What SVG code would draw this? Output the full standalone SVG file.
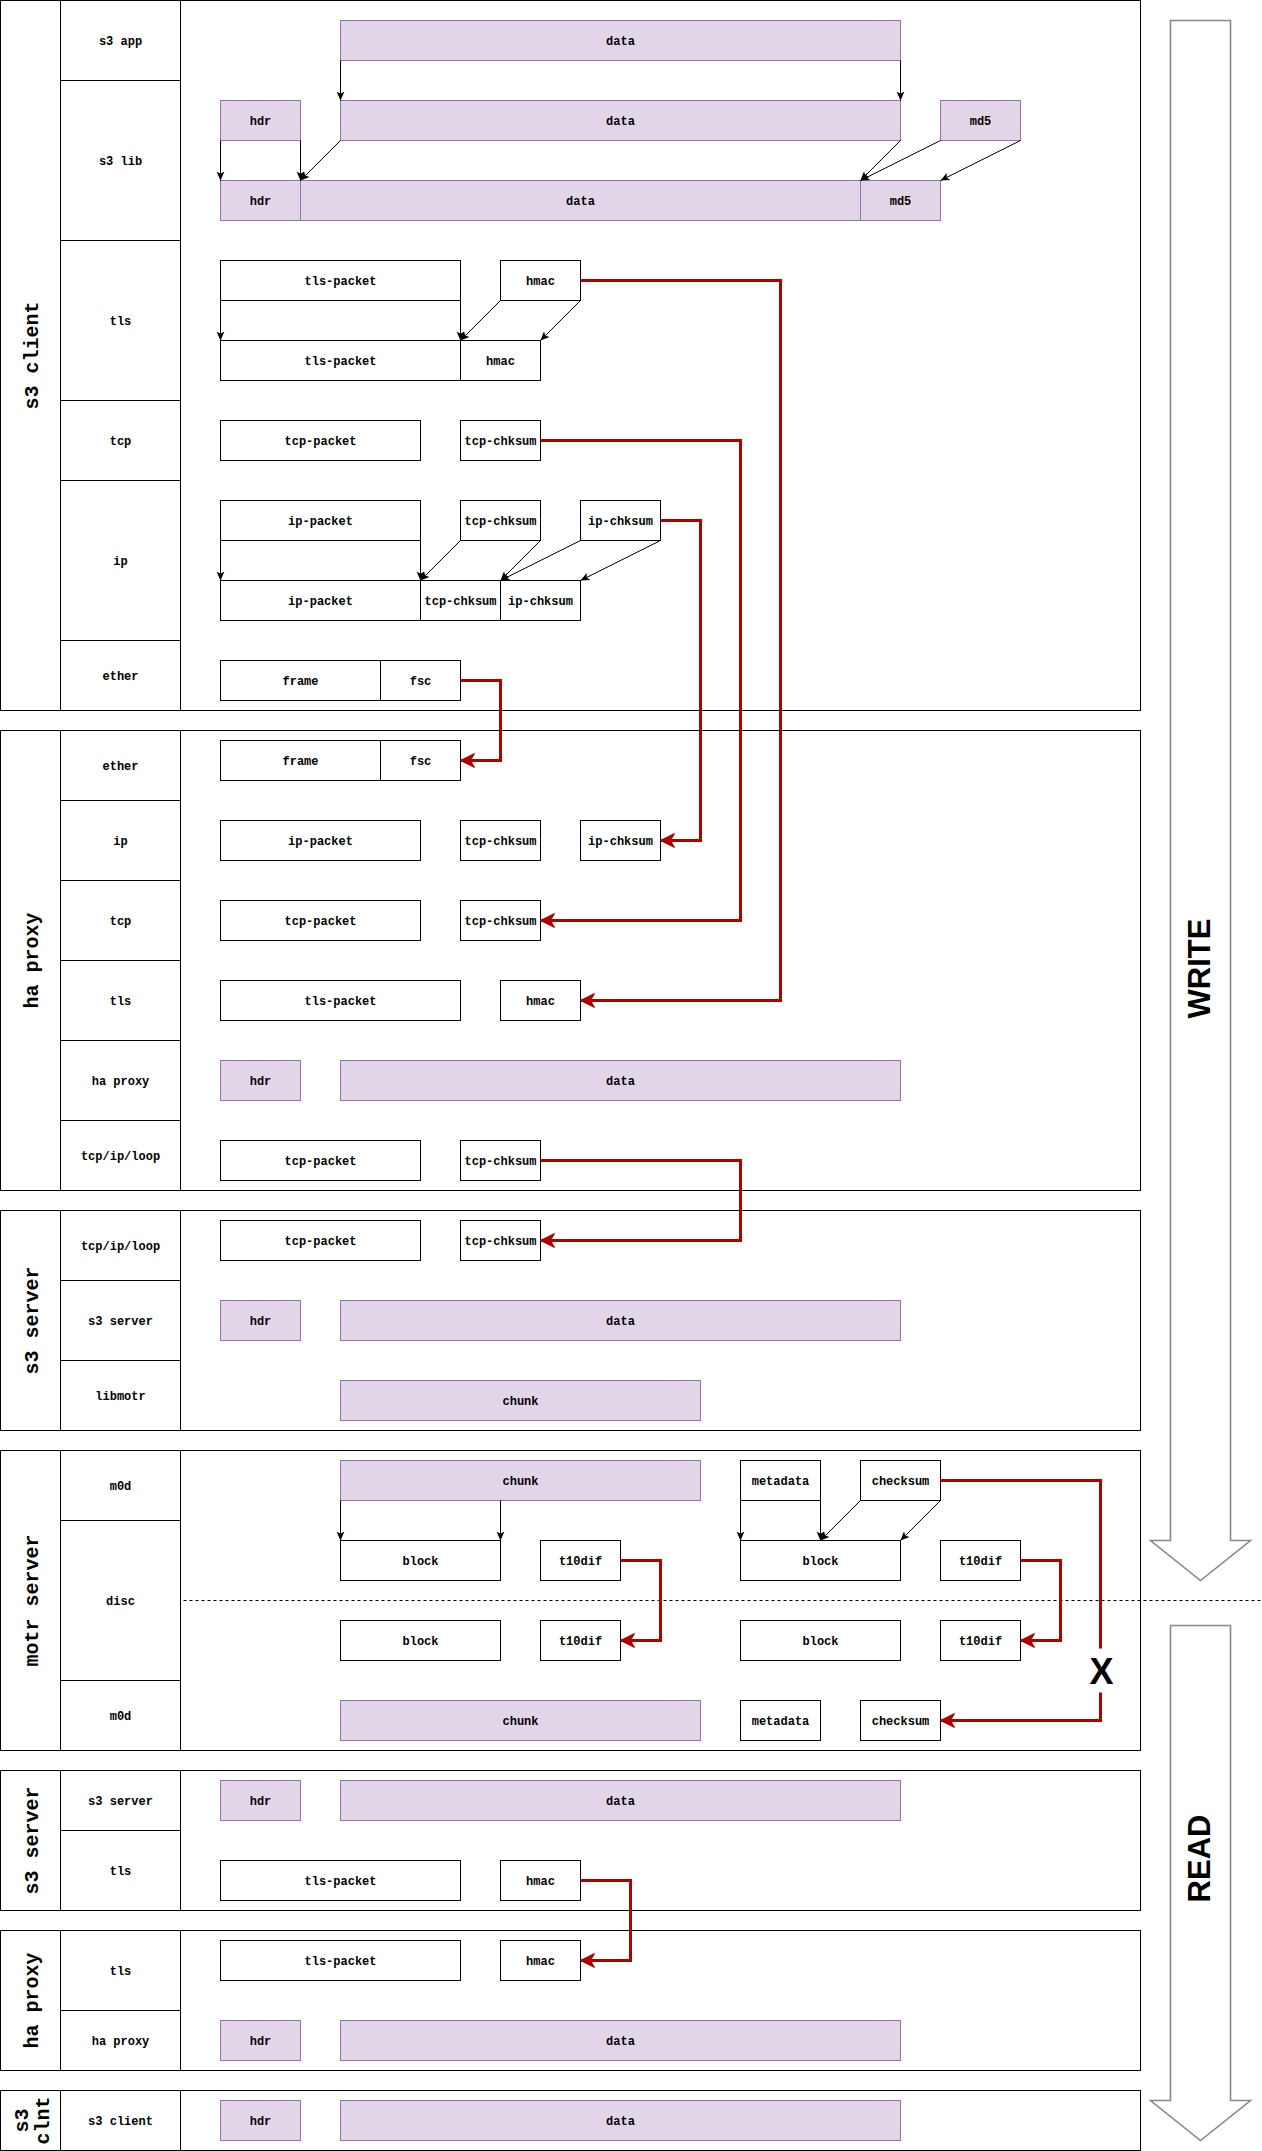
<svg xmlns="http://www.w3.org/2000/svg" width="1262" height="2151" viewBox="0 0 1262 2151">
<style>
.sec{fill:#fff;stroke:#000;stroke-width:1}
.box{fill:#fff;stroke:#000;stroke-width:1}
.pbox{fill:#e1d5e7;stroke:#9673a6;stroke-width:1}
.lbl{font-family:"Liberation Mono","Courier New",monospace;font-size:12px;font-weight:bold;text-anchor:middle;fill:#000}
.ttl{font-family:"Liberation Mono","Courier New",monospace;font-size:20px;font-weight:bold;text-anchor:middle;fill:#000}
.big{font-family:"Liberation Sans",Arial,sans-serif;font-weight:bold;font-size:31px;text-anchor:middle;fill:#000}
.red{fill:none;stroke:#B20000;stroke-width:3}
.redm{marker-end:url(#ra)}
.blk{fill:none;stroke:#000;stroke-width:1;marker-end:url(#ba)}
.flow{fill:#fff;stroke:#888;stroke-width:1.6}
.dash{fill:none;stroke:#000;stroke-width:1;stroke-dasharray:3 3}
</style>
<defs>
<marker id="ra" markerWidth="16" markerHeight="16" viewBox="0 0 16 16" refX="15" refY="8" orient="auto" markerUnits="userSpaceOnUse"><path d="M1,1 L15,8 L1,15 L5,8 Z" fill="#B20000" stroke="#B20000" stroke-width="1"/></marker>
<marker id="ba" markerWidth="10" markerHeight="9" viewBox="0 0 10 9" refX="9" refY="4.5" orient="auto" markerUnits="userSpaceOnUse"><path d="M0,0.5 L9,4.5 L0,8.5 L2.2,4.5 Z" fill="#000"/></marker>
</defs>
<rect x="0" y="0" width="1262" height="2151" fill="#fff"/>
<g transform="translate(0.5,0.5)">

<!-- section frames -->
<g id="sec-s3-client">
<rect class="sec" x="0" y="0" width="1140" height="710"/>
<rect class="sec" x="0" y="0" width="60" height="710"/>
<text class="ttl" transform="translate(0,355) rotate(-90)" x="0" y="37">s3 client</text>
<rect class="sec" x="60" y="0" width="120" height="80"/><text class="lbl" x="120" y="44">s3 app</text>
<rect class="sec" x="60" y="80" width="120" height="160"/><text class="lbl" x="120" y="164">s3 lib</text>
<rect class="sec" x="60" y="240" width="120" height="160"/><text class="lbl" x="120" y="324">tls</text>
<rect class="sec" x="60" y="400" width="120" height="80"/><text class="lbl" x="120" y="444">tcp</text>
<rect class="sec" x="60" y="480" width="120" height="160"/><text class="lbl" x="120" y="564">ip</text>
<rect class="sec" x="60" y="640" width="120" height="70"/><text class="lbl" x="120" y="679">ether</text>
</g>
<g id="sec-ha-proxy">
<rect class="sec" x="0" y="730" width="1140" height="460"/>
<rect class="sec" x="0" y="730" width="60" height="460"/>
<text class="ttl" transform="translate(0,960) rotate(-90)" x="0" y="37">ha proxy</text>
<rect class="sec" x="60" y="730" width="120" height="70"/><text class="lbl" x="120" y="769">ether</text>
<rect class="sec" x="60" y="800" width="120" height="80"/><text class="lbl" x="120" y="844">ip</text>
<rect class="sec" x="60" y="880" width="120" height="80"/><text class="lbl" x="120" y="924">tcp</text>
<rect class="sec" x="60" y="960" width="120" height="80"/><text class="lbl" x="120" y="1004">tls</text>
<rect class="sec" x="60" y="1040" width="120" height="80"/><text class="lbl" x="120" y="1084">ha proxy</text>
<rect class="sec" x="60" y="1120" width="120" height="70"/><text class="lbl" x="120" y="1159">tcp/ip/loop</text>
</g>
<g id="sec-s3-server-w">
<rect class="sec" x="0" y="1210" width="1140" height="220"/>
<rect class="sec" x="0" y="1210" width="60" height="220"/>
<text class="ttl" transform="translate(0,1320) rotate(-90)" x="0" y="37">s3 server</text>
<rect class="sec" x="60" y="1210" width="120" height="70"/><text class="lbl" x="120" y="1249">tcp/ip/loop</text>
<rect class="sec" x="60" y="1280" width="120" height="80"/><text class="lbl" x="120" y="1324">s3 server</text>
<rect class="sec" x="60" y="1360" width="120" height="70"/><text class="lbl" x="120" y="1399">libmotr</text>
</g>
<g id="sec-motr-server">
<rect class="sec" x="0" y="1450" width="1140" height="300"/>
<rect class="sec" x="0" y="1450" width="60" height="300"/>
<text class="ttl" transform="translate(0,1600) rotate(-90)" x="0" y="37">motr server</text>
<rect class="sec" x="60" y="1450" width="120" height="70"/><text class="lbl" x="120" y="1489">m0d</text>
<rect class="sec" x="60" y="1520" width="120" height="160"/><text class="lbl" x="120" y="1604">disc</text>
<rect class="sec" x="60" y="1680" width="120" height="70"/><text class="lbl" x="120" y="1719">m0d</text>
</g>
<g id="sec-s3-server-r">
<rect class="sec" x="0" y="1770" width="1140" height="140"/>
<rect class="sec" x="0" y="1770" width="60" height="140"/>
<text class="ttl" transform="translate(0,1840) rotate(-90)" x="0" y="37">s3 server</text>
<rect class="sec" x="60" y="1770" width="120" height="60"/><text class="lbl" x="120" y="1804">s3 server</text>
<rect class="sec" x="60" y="1830" width="120" height="80"/><text class="lbl" x="120" y="1874">tls</text>
</g>
<g id="sec-ha-proxy-r">
<rect class="sec" x="0" y="1930" width="1140" height="140"/>
<rect class="sec" x="0" y="1930" width="60" height="140"/>
<text class="ttl" transform="translate(0,2000) rotate(-90)" x="0" y="37">ha proxy</text>
<rect class="sec" x="60" y="1930" width="120" height="80"/><text class="lbl" x="120" y="1974">tls</text>
<rect class="sec" x="60" y="2010" width="120" height="60"/><text class="lbl" x="120" y="2044">ha proxy</text>
</g>
<g id="sec-s3-clnt">
<rect class="sec" x="0" y="2090" width="1140" height="60"/>
<rect class="sec" x="0" y="2090" width="60" height="60"/>
<text class="ttl" transform="translate(0,2120) rotate(-90)" x="0" y="27">s3<tspan x="0" dy="21">clnt</tspan></text>
<rect class="sec" x="60" y="2090" width="120" height="60"/><text class="lbl" x="120" y="2124">s3 client</text>
</g>

<!-- nodes: s3 client -->
<g id="c-app-data"><rect class="pbox" x="340" y="20" width="560" height="40"/><text class="lbl" x="620" y="44">data</text></g>
<g id="c-lib-hdr1"><rect class="pbox" x="220" y="100" width="80" height="40"/><text class="lbl" x="260" y="124">hdr</text></g>
<g id="c-lib-data1"><rect class="pbox" x="340" y="100" width="560" height="40"/><text class="lbl" x="620" y="124">data</text></g>
<g id="c-lib-md51"><rect class="pbox" x="940" y="100" width="80" height="40"/><text class="lbl" x="980" y="124">md5</text></g>
<g id="c-lib-hdr2"><rect class="pbox" x="220" y="180" width="80" height="40"/><text class="lbl" x="260" y="204">hdr</text></g>
<g id="c-lib-data2"><rect class="pbox" x="300" y="180" width="560" height="40"/><text class="lbl" x="580" y="204">data</text></g>
<g id="c-lib-md52"><rect class="pbox" x="860" y="180" width="80" height="40"/><text class="lbl" x="900" y="204">md5</text></g>
<g id="c-tls-pkt1"><rect class="box" x="220" y="260" width="240" height="40"/><text class="lbl" x="340" y="284">tls-packet</text></g>
<g id="c-tls-hmac1"><rect class="box" x="500" y="260" width="80" height="40"/><text class="lbl" x="540" y="284">hmac</text></g>
<g id="c-tls-pkt2"><rect class="box" x="220" y="340" width="240" height="40"/><text class="lbl" x="340" y="364">tls-packet</text></g>
<g id="c-tls-hmac2"><rect class="box" x="460" y="340" width="80" height="40"/><text class="lbl" x="500" y="364">hmac</text></g>
<g id="c-tcp-pkt"><rect class="box" x="220" y="420" width="200" height="40"/><text class="lbl" x="320" y="444">tcp-packet</text></g>
<g id="c-tcp-chk"><rect class="box" x="460" y="420" width="80" height="40"/><text class="lbl" x="500" y="444">tcp-chksum</text></g>
<g id="c-ip-pkt1"><rect class="box" x="220" y="500" width="200" height="40"/><text class="lbl" x="320" y="524">ip-packet</text></g>
<g id="c-ip-tcpchk1"><rect class="box" x="460" y="500" width="80" height="40"/><text class="lbl" x="500" y="524">tcp-chksum</text></g>
<g id="c-ip-ipchk1"><rect class="box" x="580" y="500" width="80" height="40"/><text class="lbl" x="620" y="524">ip-chksum</text></g>
<g id="c-ip-pkt2"><rect class="box" x="220" y="580" width="200" height="40"/><text class="lbl" x="320" y="604">ip-packet</text></g>
<g id="c-ip-tcpchk2"><rect class="box" x="420" y="580" width="80" height="40"/><text class="lbl" x="460" y="604">tcp-chksum</text></g>
<g id="c-ip-ipchk2"><rect class="box" x="500" y="580" width="80" height="40"/><text class="lbl" x="540" y="604">ip-chksum</text></g>
<g id="c-eth-frame"><rect class="box" x="220" y="660" width="160" height="40"/><text class="lbl" x="300" y="684">frame</text></g>
<g id="c-eth-fsc"><rect class="box" x="380" y="660" width="80" height="40"/><text class="lbl" x="420" y="684">fsc</text></g>

<!-- nodes: ha proxy -->
<g id="h-eth-frame"><rect class="box" x="220" y="740" width="160" height="40"/><text class="lbl" x="300" y="764">frame</text></g>
<g id="h-eth-fsc"><rect class="box" x="380" y="740" width="80" height="40"/><text class="lbl" x="420" y="764">fsc</text></g>
<g id="h-ip-pkt"><rect class="box" x="220" y="820" width="200" height="40"/><text class="lbl" x="320" y="844">ip-packet</text></g>
<g id="h-ip-tcpchk"><rect class="box" x="460" y="820" width="80" height="40"/><text class="lbl" x="500" y="844">tcp-chksum</text></g>
<g id="h-ip-ipchk"><rect class="box" x="580" y="820" width="80" height="40"/><text class="lbl" x="620" y="844">ip-chksum</text></g>
<g id="h-tcp-pkt"><rect class="box" x="220" y="900" width="200" height="40"/><text class="lbl" x="320" y="924">tcp-packet</text></g>
<g id="h-tcp-chk"><rect class="box" x="460" y="900" width="80" height="40"/><text class="lbl" x="500" y="924">tcp-chksum</text></g>
<g id="h-tls-pkt"><rect class="box" x="220" y="980" width="240" height="40"/><text class="lbl" x="340" y="1004">tls-packet</text></g>
<g id="h-tls-hmac"><rect class="box" x="500" y="980" width="80" height="40"/><text class="lbl" x="540" y="1004">hmac</text></g>
<g id="h-ha-hdr"><rect class="pbox" x="220" y="1060" width="80" height="40"/><text class="lbl" x="260" y="1084">hdr</text></g>
<g id="h-ha-data"><rect class="pbox" x="340" y="1060" width="560" height="40"/><text class="lbl" x="620" y="1084">data</text></g>
<g id="h-loop-pkt"><rect class="box" x="220" y="1140" width="200" height="40"/><text class="lbl" x="320" y="1164">tcp-packet</text></g>
<g id="h-loop-chk"><rect class="box" x="460" y="1140" width="80" height="40"/><text class="lbl" x="500" y="1164">tcp-chksum</text></g>

<!-- nodes: s3 server (write) -->
<g id="s-loop-pkt"><rect class="box" x="220" y="1220" width="200" height="40"/><text class="lbl" x="320" y="1244">tcp-packet</text></g>
<g id="s-loop-chk"><rect class="box" x="460" y="1220" width="80" height="40"/><text class="lbl" x="500" y="1244">tcp-chksum</text></g>
<g id="s-hdr"><rect class="pbox" x="220" y="1300" width="80" height="40"/><text class="lbl" x="260" y="1324">hdr</text></g>
<g id="s-data"><rect class="pbox" x="340" y="1300" width="560" height="40"/><text class="lbl" x="620" y="1324">data</text></g>
<g id="s-chunk"><rect class="pbox" x="340" y="1380" width="360" height="40"/><text class="lbl" x="520" y="1404">chunk</text></g>

<!-- nodes: motr server -->
<g id="m-chunk1"><rect class="pbox" x="340" y="1460" width="360" height="40"/><text class="lbl" x="520" y="1484">chunk</text></g>
<g id="m-meta1"><rect class="box" x="740" y="1460" width="80" height="40"/><text class="lbl" x="780" y="1484">metadata</text></g>
<g id="m-cks1"><rect class="box" x="860" y="1460" width="80" height="40"/><text class="lbl" x="900" y="1484">checksum</text></g>
<g id="m-blk1"><rect class="box" x="340" y="1540" width="160" height="40"/><text class="lbl" x="420" y="1564">block</text></g>
<g id="m-dif1"><rect class="box" x="540" y="1540" width="80" height="40"/><text class="lbl" x="580" y="1564">t10dif</text></g>
<g id="m-blk2"><rect class="box" x="740" y="1540" width="160" height="40"/><text class="lbl" x="820" y="1564">block</text></g>
<g id="m-dif2"><rect class="box" x="940" y="1540" width="80" height="40"/><text class="lbl" x="980" y="1564">t10dif</text></g>
<g id="m-blk3"><rect class="box" x="340" y="1620" width="160" height="40"/><text class="lbl" x="420" y="1644">block</text></g>
<g id="m-dif3"><rect class="box" x="540" y="1620" width="80" height="40"/><text class="lbl" x="580" y="1644">t10dif</text></g>
<g id="m-blk4"><rect class="box" x="740" y="1620" width="160" height="40"/><text class="lbl" x="820" y="1644">block</text></g>
<g id="m-dif4"><rect class="box" x="940" y="1620" width="80" height="40"/><text class="lbl" x="980" y="1644">t10dif</text></g>
<g id="m-chunk2"><rect class="pbox" x="340" y="1700" width="360" height="40"/><text class="lbl" x="520" y="1724">chunk</text></g>
<g id="m-meta2"><rect class="box" x="740" y="1700" width="80" height="40"/><text class="lbl" x="780" y="1724">metadata</text></g>
<g id="m-cks2"><rect class="box" x="860" y="1700" width="80" height="40"/><text class="lbl" x="900" y="1724">checksum</text></g>

<!-- nodes: s3 server (read) -->
<g id="r-s-hdr"><rect class="pbox" x="220" y="1780" width="80" height="40"/><text class="lbl" x="260" y="1804">hdr</text></g>
<g id="r-s-data"><rect class="pbox" x="340" y="1780" width="560" height="40"/><text class="lbl" x="620" y="1804">data</text></g>
<g id="r-s-tls"><rect class="box" x="220" y="1860" width="240" height="40"/><text class="lbl" x="340" y="1884">tls-packet</text></g>
<g id="r-s-hmac"><rect class="box" x="500" y="1860" width="80" height="40"/><text class="lbl" x="540" y="1884">hmac</text></g>

<!-- nodes: ha proxy (read) -->
<g id="r-h-tls"><rect class="box" x="220" y="1940" width="240" height="40"/><text class="lbl" x="340" y="1964">tls-packet</text></g>
<g id="r-h-hmac"><rect class="box" x="500" y="1940" width="80" height="40"/><text class="lbl" x="540" y="1964">hmac</text></g>
<g id="r-h-hdr"><rect class="pbox" x="220" y="2020" width="80" height="40"/><text class="lbl" x="260" y="2044">hdr</text></g>
<g id="r-h-data"><rect class="pbox" x="340" y="2020" width="560" height="40"/><text class="lbl" x="620" y="2044">data</text></g>

<!-- nodes: s3 clnt -->
<g id="r-c-hdr"><rect class="pbox" x="220" y="2100" width="80" height="40"/><text class="lbl" x="260" y="2124">hdr</text></g>
<g id="r-c-data"><rect class="pbox" x="340" y="2100" width="560" height="40"/><text class="lbl" x="620" y="2124">data</text></g>

<!-- dashed disc boundary -->
<path class="dash" d="M183,1600 H1262"/>

<!-- WRITE / READ arrows -->
<g id="write-arrow">
<path class="flow" d="M1170,20 H1230 V1540 H1250 L1200,1580 L1150,1540 H1170 Z"/>
<text class="big" transform="translate(1209,968) rotate(-90)" x="0" y="0">WRITE</text>
</g>
<g id="read-arrow">
<path class="flow" d="M1170,1625 H1230 V2100 H1250 L1200,2140 L1150,2100 H1170 Z"/>
<text class="big" transform="translate(1209,1858) rotate(-90)" x="0" y="0">READ</text>
</g>

<!-- connectors -->
<g id="connectors">
<path class="blk" d="M340,60 V100"/>
<path class="blk" d="M900,60 V100"/>
<path class="blk" d="M220,140 V180"/>
<path class="blk" d="M300,140 V180"/>
<path class="blk" d="M340,140 L300,180"/>
<path class="blk" d="M900,140 L860,180"/>
<path class="blk" d="M940,140 L860,180"/>
<path class="blk" d="M1020,140 L940,180"/>
<path class="blk" d="M220,300 V340"/>
<path class="blk" d="M460,300 V340"/>
<path class="blk" d="M500,300 L460,340"/>
<path class="blk" d="M580,300 L540,340"/>
<path class="blk" d="M220,540 V580"/>
<path class="blk" d="M420,540 V580"/>
<path class="blk" d="M460,540 L420,580"/>
<path class="blk" d="M540,540 L500,580"/>
<path class="blk" d="M580,540 L500,580"/>
<path class="blk" d="M660,540 L580,580"/>
<path class="blk" d="M340,1500 V1540"/>
<path class="blk" d="M500,1500 V1540"/>
<path class="blk" d="M740,1500 V1540"/>
<path class="blk" d="M820,1500 V1540"/>
<path class="blk" d="M860,1500 L820,1540"/>
<path class="blk" d="M940,1500 L900,1540"/>

<path class="red redm" d="M580,280 H780 V1000 H580"/>
<path class="red redm" d="M540,440 H740 V920 H540"/>
<path class="red redm" d="M660,520 H700 V840 H660"/>
<path class="red redm" d="M460,680 H500 V760 H460"/>
<path class="red redm" d="M540,1160 H740 V1240 H540"/>
<path class="red redm" d="M620,1560 H660 V1640 H620"/>
<path class="red redm" d="M1020,1560 H1060 V1640 H1020"/>
<path class="red" d="M940,1480 H1100 V1648"/>
<path class="red redm" d="M1100,1692 V1720 H940"/>
<text class="big" x="1101" y="1683" style="font-size:36px">X</text>
<path class="red redm" d="M580,1880 H630 V1960 H580"/>
</g>
</g>
</svg>
